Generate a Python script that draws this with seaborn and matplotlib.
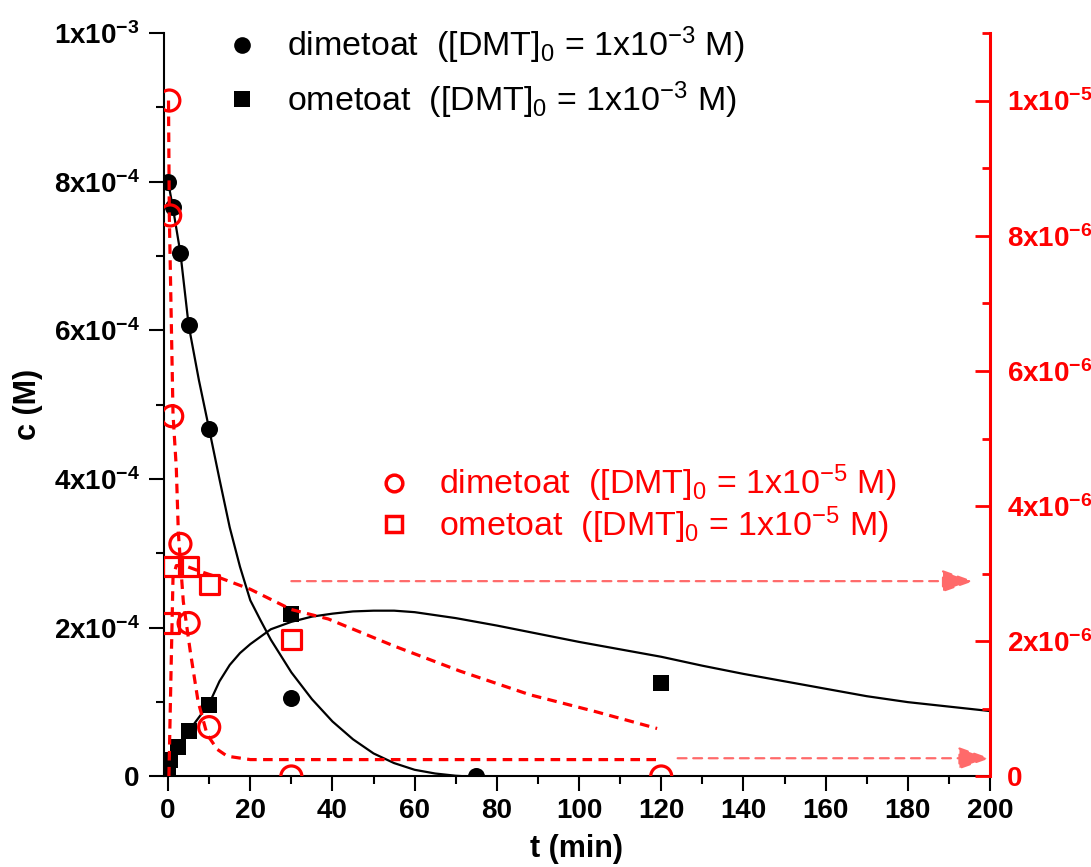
import matplotlib
matplotlib.use('Agg')
import matplotlib.pyplot as plt
from matplotlib.lines import Line2D
from matplotlib.ticker import MultipleLocator, FixedLocator, FixedFormatter
import seaborn as sns

# --- measured points, [DMT]0 = 1e-3 M (left axis) ---
t_dmt_hi = [0, 1.2, 3, 5, 10, 30, 75]
c_dmt_hi = [8.0e-4, 7.66e-4, 7.04e-4, 6.07e-4, 4.67e-4, 1.06e-4, 0.0]
t_omt_hi = [0, 0.5, 2.5, 5, 10, 30, 120]
c_omt_hi = [0.0, 2.2e-5, 4.0e-5, 6.1e-5, 9.6e-5, 2.19e-4, 1.26e-4]

# fitted curves, 1e-3 M run
fit_t_dmt_hi = [0, 1.2, 3, 5, 7.5, 10, 12.5, 15, 17.5, 20, 22.5, 25, 30,
                35, 40, 45, 50, 55, 60, 65, 70, 73]
fit_c_dmt_hi = [8.0e-4, 7.64e-4, 7.04e-4, 6.07e-4, 5.33e-4, 4.67e-4, 4.0e-4,
                3.35e-4, 2.82e-4, 2.37e-4, 2.1e-4, 1.84e-4, 1.4e-4, 1.04e-4,
                0.74e-4, 0.5e-4, 0.31e-4, 0.18e-4, 0.09e-4, 0.04e-4, 0.01e-4, 0.0]
fit_t_omt_hi = [0, 0.5, 2.5, 5, 10, 12.5, 15, 17.5, 20, 25, 30, 35, 40, 45,
                50, 55, 60, 70, 80, 90, 100, 110, 120, 130, 140, 150, 160,
                170, 180, 190, 200]
fit_c_omt_hi = [0.0, 0.22e-4, 0.40e-4, 0.61e-4, 0.98e-4, 1.28e-4, 1.50e-4,
                1.66e-4, 1.78e-4, 1.98e-4, 2.08e-4, 2.15e-4, 2.19e-4, 2.22e-4,
                2.23e-4, 2.23e-4, 2.21e-4, 2.13e-4, 2.03e-4, 1.92e-4, 1.81e-4,
                1.71e-4, 1.61e-4, 1.49e-4, 1.38e-4, 1.28e-4, 1.18e-4, 1.08e-4,
                1.00e-4, 0.94e-4, 0.88e-4]

# --- measured points, [DMT]0 = 1e-5 M (right axis) ---
t_dmt_lo = [0.3, 0.5, 1.0, 3, 5, 10, 30, 120]
c_dmt_lo = [10.0e-6, 8.3e-6, 5.33e-6, 3.44e-6, 2.27e-6, 0.73e-6, 0.0, 0.0]
t_omt_lo = [0.3, 1, 5, 10, 30]
c_omt_lo = [2.27e-6, 3.11e-6, 3.11e-6, 2.84e-6, 2.03e-6]

fit_t_dmt_lo = [0.1, 0.3, 1.2, 2.0, 2.5, 3.7, 5.4, 7.3, 9.5, 12, 14.4, 20,
                40, 60, 80, 100, 120]
fit_c_dmt_lo = [10.0e-6, 8.3e-6, 5.36e-6, 4.56e-6, 3.6e-6, 2.59e-6, 1.85e-6,
                1.11e-6, 0.62e-6, 0.40e-6, 0.30e-6, 0.25e-6, 0.25e-6, 0.25e-6,
                0.25e-6, 0.25e-6, 0.25e-6]
fit_t_omt_lo = [0.2, 0.7, 1.2, 2, 4, 8, 13, 20, 25, 30, 39, 55, 71, 88, 104, 119]
fit_c_omt_lo = [0.0, 1.5e-6, 2.95e-6, 3.12e-6, 3.12e-6, 3.03e-6, 2.93e-6,
                2.77e-6, 2.62e-6, 2.47e-6, 2.33e-6, 1.93e-6, 1.56e-6, 1.21e-6,
                0.96e-6, 0.71e-6]

# arrows pointing to the right axis: (t start, t end, level)
arrow_upper = (30, 196, 2.89e-6)
arrow_lower = (124, 200, 0.27e-6)

# ticks
x_ticks = [0, 20, 40, 60, 80, 100, 120, 140, 160, 180, 200]
y_left_ticks = [0, 2e-4, 4e-4, 6e-4, 8e-4, 1e-3]
y_left_labels = ['0', r'2x10$^{\mathbf{-4}}$', r'4x10$^{\mathbf{-4}}$',
                 r'6x10$^{\mathbf{-4}}$', r'8x10$^{\mathbf{-4}}$', r'1x10$^{\mathbf{-3}}$']
y_right_ticks = [0, 2e-6, 4e-6, 6e-6, 8e-6, 1e-5]
y_right_labels = ['0', r'2x10$^{\mathbf{-6}}$', r'4x10$^{\mathbf{-6}}$',
                  r'6x10$^{\mathbf{-6}}$', r'8x10$^{\mathbf{-6}}$', r'1x10$^{\mathbf{-5}}$']

RED = '#ff0000'
LIGHT_RED = '#ff6a6a'

sns.set_style('ticks')
plt.rcParams['font.family'] = ['Liberation Sans', 'DejaVu Sans']
plt.rcParams['mathtext.fontset'] = 'custom'
plt.rcParams['mathtext.rm'] = 'Liberation Sans'
plt.rcParams['mathtext.bf'] = 'Liberation Sans:bold'
plt.rcParams['mathtext.it'] = 'Liberation Sans:italic'
plt.rcParams['mathtext.default'] = 'regular'
# pure black instead of seaborn's dark grey
for key in ['text.color', 'axes.labelcolor', 'xtick.color', 'ytick.color',
            'axes.edgecolor']:
    plt.rcParams[key] = 'black'

fig = plt.figure(figsize=(10.91, 8.67), dpi=100)
ax = fig.add_axes([0.1503, 0.1044, 0.7571, 0.8576])
ax2 = ax.twinx()

# black: 1e-3 M run
sns.lineplot(x=fit_t_dmt_hi, y=fit_c_dmt_hi, ax=ax, color='black', lw=1.6)
sns.lineplot(x=fit_t_omt_hi, y=fit_c_omt_hi, ax=ax, color='black', lw=1.6)
sns.scatterplot(x=t_dmt_hi, y=c_dmt_hi, ax=ax, marker='o', color='black',
                s=150, linewidth=0, zorder=4)
sns.scatterplot(x=t_omt_hi, y=c_omt_hi, ax=ax, marker='s', color='black',
                s=135, linewidth=0, zorder=4)

# red: 1e-5 M run
sns.lineplot(x=fit_t_dmt_lo, y=fit_c_dmt_lo, ax=ax2, color=RED, lw=2.3,
             linestyle=(0, (3, 2)))
sns.lineplot(x=fit_t_omt_lo, y=fit_c_omt_lo, ax=ax2, color=RED, lw=2.3,
             linestyle=(0, (3, 2)))
sns.scatterplot(x=t_dmt_lo, y=c_dmt_lo, ax=ax2, marker='o', color=RED,
                facecolor='none', edgecolor=RED, s=230, linewidth=2.3, zorder=4)
sns.scatterplot(x=t_omt_lo, y=c_omt_lo, ax=ax2, marker='s', color=RED,
                facecolor='none', edgecolor=RED, s=190, linewidth=2.3, zorder=4)

for t0, t1, lvl in [arrow_upper, arrow_lower]:
    ax2.annotate('', xy=(t1, lvl), xytext=(t0, lvl),
                 arrowprops=dict(arrowstyle='-|>,head_length=1.4,head_width=0.5',
                                 color=LIGHT_RED, lw=1.6, linestyle=(0, (4, 3)),
                                 shrinkA=0, shrinkB=0, mutation_scale=14))

# axes limits and ticks
ax.set_xlim(-1, 200)
ax.set_ylim(0, 1e-3)
ax2.set_ylim(0, 1.1e-5)

ax.xaxis.set_major_locator(FixedLocator(x_ticks))
ax.xaxis.set_minor_locator(MultipleLocator(10))
ax.yaxis.set_major_locator(FixedLocator(y_left_ticks))
ax.yaxis.set_major_formatter(FixedFormatter(y_left_labels))
ax.yaxis.set_minor_locator(MultipleLocator(1e-4))
ax2.yaxis.set_major_locator(FixedLocator(y_right_ticks))
ax2.yaxis.set_major_formatter(FixedFormatter(y_right_labels))
ax2.yaxis.set_minor_locator(MultipleLocator(1e-6))

ax.tick_params(axis='both', which='major', direction='out', length=10.5, width=1.5,
               labelsize=20, pad=5)
ax.tick_params(axis='both', which='minor', direction='out', length=6, width=1.5)
ax.tick_params(axis='y', which='major', pad=7)
ax2.tick_params(axis='y', which='major', direction='in', length=11, width=2,
                color=RED, labelcolor=RED, labelsize=20, pad=12)
ax2.tick_params(axis='y', which='minor', direction='in', length=6, width=2, color=RED)
for lab in ax.get_xticklabels() + ax.get_yticklabels() + ax2.get_yticklabels():
    lab.set_fontweight('bold')

for s in ['top', 'right']:
    ax.spines[s].set_visible(False)
for s in ['top', 'left', 'bottom']:
    ax2.spines[s].set_visible(False)
ax.spines['left'].set_linewidth(1.5)
ax.spines['bottom'].set_linewidth(1.5)
ax2.spines['right'].set_color(RED)
ax2.spines['right'].set_linewidth(2.2)

ax.set_xlabel('t (min)', fontsize=22, fontweight='bold')
ax.set_ylabel('c (M)', fontsize=22, fontweight='bold')
ax.xaxis.set_label_coords(0.5, -0.078)
ax.yaxis.set_label_coords(-0.146, 0.5)
ax2.set_ylabel('')

# legends
black_handles = [
    Line2D([], [], marker='o', color='black', ls='none', markersize=12, markeredgewidth=0),
    Line2D([], [], marker='s', color='black', ls='none', markersize=11, markeredgewidth=0),
]
black_labels = [r'dimetoat  ([DMT]$_0$ = 1x10$^{-3}$ M)',
                r'ometoat  ([DMT]$_0$ = 1x10$^{-3}$ M)']
leg1 = ax2.legend(black_handles, black_labels, loc='upper left',
                  bbox_to_anchor=(226 / 1091, 1 - 25 / 867),
                  bbox_transform=fig.transFigure, frameon=False, fontsize=24.5,
                  handlelength=0.95, handletextpad=0.85, borderpad=0,
                  borderaxespad=0, labelspacing=0.38, labelcolor='black')
ax2.add_artist(leg1)

red_handles = [
    Line2D([], [], marker='o', color=RED, mfc='none', ls='none', markersize=12,
           markeredgewidth=2.5),
    Line2D([], [], marker='s', color=RED, mfc='none', ls='none', markersize=11,
           markeredgewidth=2.5),
]
red_labels = [r'dimetoat  ([DMT]$_0$ = 1x10$^{-5}$ M)',
              r'ometoat  ([DMT]$_0$ = 1x10$^{-5}$ M)']
ax2.legend(red_handles, red_labels, loc='upper left',
           bbox_to_anchor=(378 / 1091, 1 - 463 / 867),
           bbox_transform=fig.transFigure, frameon=False, fontsize=24.5,
           handlelength=0.95, handletextpad=0.85, borderpad=0, borderaxespad=0,
           labelspacing=0.0, labelcolor=RED)

fig.savefig('out.png', dpi=100)
